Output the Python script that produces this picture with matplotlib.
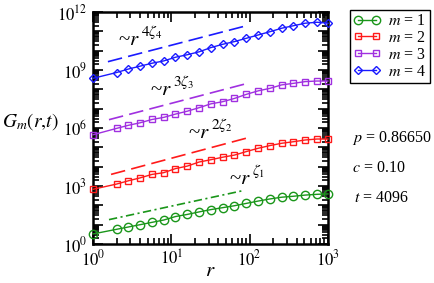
import numpy as np
import matplotlib
matplotlib.use('Agg')
import matplotlib.pyplot as plt
from matplotlib.ticker import LogLocator, FuncFormatter, NullFormatter
from matplotlib.transforms import offset_copy

plt.rcParams['font.family'] = ['Liberation Serif', 'DejaVu Serif']
plt.rcParams['mathtext.fontset'] = 'stix'
plt.rcParams['lines.scale_dashes'] = False

# distances r (roughly sqrt(2) steps)
r = [1, 2, 2.83, 4, 5.66, 8, 11.3, 16, 22.6, 32, 45.3, 64, 90.5, 128, 181, 256, 362, 512, 724, 1000]

# log10 of G_m(r,t)
log_g1 = [0.52, 0.76, 0.88, 1.00, 1.12, 1.24, 1.42, 1.53, 1.66, 1.78,
          1.88, 1.98, 2.10, 2.22, 2.33, 2.42, 2.47, 2.53, 2.57, 2.59]
log_g2 = [2.83, 3.10, 3.27, 3.42, 3.60, 3.69, 3.90, 4.03, 4.24, 4.36,
          4.49, 4.60, 4.78, 4.95, 5.09, 5.21, 5.29, 5.38, 5.43, 5.43]
log_g3 = [5.65, 5.98, 6.14, 6.27, 6.44, 6.55, 6.72, 6.87, 7.05, 7.25,
          7.36, 7.53, 7.74, 7.92, 8.05, 8.23, 8.31, 8.40, 8.43, 8.43]
log_g4 = [8.57, 8.87, 9.05, 9.20, 9.35, 9.47, 9.66, 9.79, 9.94, 10.16,
          10.33, 10.47, 10.64, 10.81, 10.98, 11.16, 11.29, 11.42, 11.47, 11.42]

# guide lines ~ r^(m zeta_m): end points (r, log10 G)
guide1_r = [1.6, 82]
guide1_logg = [1.26, 2.76]
guide2_r = [1.7, 100]
guide2_logg = [3.60, 5.52]
guide3_r = [1.6, 98]
guide3_logg = [6.43, 8.33]
guide4_r = [1.55, 87]
guide4_logg = [9.43, 11.27]

green = '#1a961a'
red = '#ff1a1a'
purple = '#a030e0'
blue = '#1a1aff'

fig = plt.figure(figsize=(4.34, 2.83), dpi=100)
ax = fig.add_axes([93/434, 39/283, 235/434, 232/283])

mk = dict(markerfacecolor='none', markeredgewidth=1.0, linewidth=1.0, clip_on=False, zorder=3)
ax.plot(r, 10**np.array(log_g1), '-o', color=green, markersize=6, label='$m$ = 1', **mk)
ax.plot(r, 10**np.array(log_g2), '-s', color=red, markersize=5, label='$m$ = 2', **mk)
ax.plot(r, 10**np.array(log_g3), '-s', color=purple, markersize=5, label='$m$ = 3', **mk)
ax.plot(r, 10**np.array(log_g4), '-D', color=blue, markersize=4.5, label='$m$ = 4', **mk)

dash = (10.5, 4.5)
ax.plot(guide1_r, 10**np.array(guide1_logg), color=green, linewidth=1.2, dashes=(6, 2.5, 1.5, 2.5))
ax.plot(guide2_r, 10**np.array(guide2_logg), color=red, linewidth=1.2, dashes=dash)
ax.plot(guide3_r, 10**np.array(guide3_logg), color=purple, linewidth=1.2, dashes=dash)
ax.plot(guide4_r, 10**np.array(guide4_logg), color=blue, linewidth=1.2, dashes=dash)

# "~r" with a raised exponent
notes = [(0.106, 0.858, r'$4\zeta_4$'), (0.243, 0.642, r'$3\zeta_3$'),
         (0.404, 0.457, r'$2\zeta_2$'), (0.579, 0.259, r'$\zeta_1$')]
for x, y, ex in notes:
    ax.text(x, y, '~$r$', transform=ax.transAxes, fontsize=15, va='baseline')
    tr = offset_copy(ax.transAxes, fig=fig, x=16.5, y=6.5, units='points')
    ax.text(x, y, ex, transform=tr, fontsize=11, va='baseline')

ax.set_xscale('log')
ax.set_yscale('log')
ax.set_xlim(1, 1000)
ax.set_ylim(1, 1e12)

ax.xaxis.set_major_locator(LogLocator(base=10, numticks=10))
ax.xaxis.set_minor_locator(LogLocator(base=10, subs=np.arange(2, 10), numticks=100))
ax.yaxis.set_major_locator(LogLocator(base=10, subs=(1.0,), numticks=100))
ax.yaxis.set_minor_locator(LogLocator(base=10, subs=np.arange(2, 10), numticks=100))
ax.xaxis.set_minor_formatter(NullFormatter())
ax.yaxis.set_minor_formatter(NullFormatter())


def ylab(v, pos):
    e = int(round(np.log10(v)))
    return r'$10^{%d}$' % e if e % 3 == 0 else ''


ax.yaxis.set_major_formatter(FuncFormatter(ylab))
ax.xaxis.set_major_formatter(FuncFormatter(lambda v, p: r'$10^{%d}$' % int(round(np.log10(v)))))

ax.tick_params(which='both', direction='in', top=True, right=True, labelsize=12, width=1.2)
ax.tick_params(which='major', length=7, pad=4)
ax.tick_params(which='minor', length=4)
for s in ax.spines.values():
    s.set_linewidth(1.8)

fig.text(2/434, 1 - 122/283, r'$G_m(r{,}t)$', fontsize=14, va='center', ha='left')
fig.text(210/434, 1 - 272/283, r'$r$', fontsize=15, va='center', ha='center')

fig.text(352/434, 1 - 138/283, '$p$ = 0.86650', fontsize=11.5, va='center')
fig.text(352/434, 1 - 168/283, '$c$ = 0.10', fontsize=11.5, va='center')
fig.text(354/434, 1 - 198/283, '$t$ = 4096', fontsize=11.5, va='center')

leg = ax.legend(loc='upper left', bbox_to_anchor=(350/434, 1 - 10/283), bbox_transform=fig.transFigure,
                borderaxespad=0, numpoints=2, handlelength=1.7, handletextpad=0.5,
                fancybox=False, edgecolor='black', framealpha=1, fontsize=11.5,
                labelspacing=0.05, borderpad=0.2)
leg.get_frame().set_linewidth(1.0)

fig.savefig('out.png', dpi=100)
